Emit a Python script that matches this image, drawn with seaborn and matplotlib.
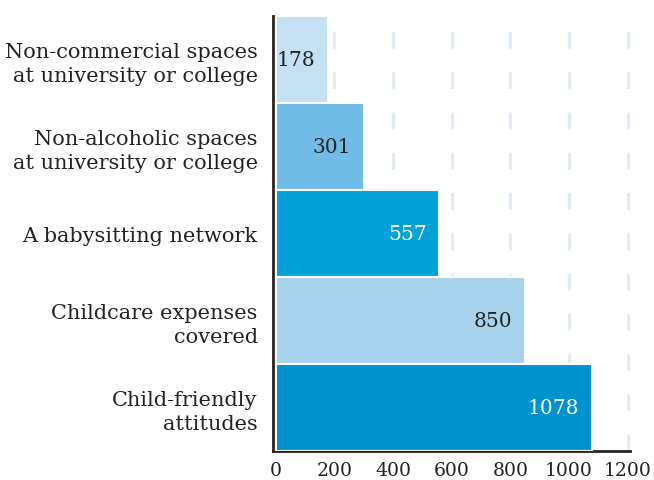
import matplotlib
matplotlib.use("Agg")
import matplotlib.pyplot as plt
import seaborn as sns
import pandas as pd

categories = [
    "Non-commercial spaces\nat university or college",
    "Non-alcoholic spaces\nat university or college",
    "A babysitting network",
    "Childcare expenses\ncovered",
    "Child-friendly\nattitudes",
]
values = [178, 301, 557, 850, 1078]
bar_colors = ["#c4e0f3", "#6fbde6", "#00a2d9", "#a8d3ec", "#0092cf"]
label_colors = ["#222222", "#222222", "#ffffff", "#222222", "#ffffff"]
x_ticks = [0, 200, 400, 600, 800, 1000, 1200]

sns.set_theme(style="white")
plt.rcParams["font.family"] = ["DejaVu Serif"]

df = pd.DataFrame({"category": categories, "value": values})

fig = plt.figure(figsize=(6.54, 4.81), dpi=100)
ax = fig.add_axes([0.4174, 0.0603, 0.963 - 0.4174, 0.9647 - 0.0603])

sns.barplot(data=df, y="category", x="value", hue="category",
            palette=bar_colors, order=categories, hue_order=categories,
            saturation=1, width=1.0, edgecolor="white", linewidth=1.5,
            legend=False, orient="h", ax=ax, zorder=3)

for grid_x in x_ticks[1:]:
    ax.axvline(grid_x, color="#dbe9f5", lw=2.0, ls=(0, (6, 8.5)), zorder=1)

for i, (v, c) in enumerate(zip(values, label_colors)):
    ax.annotate(str(v), xy=(v, i), xytext=(-9, 0), textcoords="offset points",
                ha="right", va="center", color=c, fontsize=14.5, zorder=4)

ax.set_xlim(-9, 1207)
ax.set_ylim(len(categories) - 0.5, -0.5)
ax.set_xticks(x_ticks)
ax.set_xticklabels([str(t) for t in x_ticks])
ax.set_xlabel("")
ax.set_ylabel("")
ax.tick_params(axis="x", length=0, pad=7, labelsize=13.5, labelcolor="#222222")
ax.tick_params(axis="y", length=0, pad=11, labelsize=15, labelcolor="#222222")
for lbl in ax.get_yticklabels():
    lbl.set_linespacing(1.3)

for side in ["top", "right"]:
    ax.spines[side].set_visible(False)
for side in ["left", "bottom"]:
    ax.spines[side].set_color("#222222")
    ax.spines[side].set_linewidth(2.0)

fig.savefig("out.png", dpi=100)
